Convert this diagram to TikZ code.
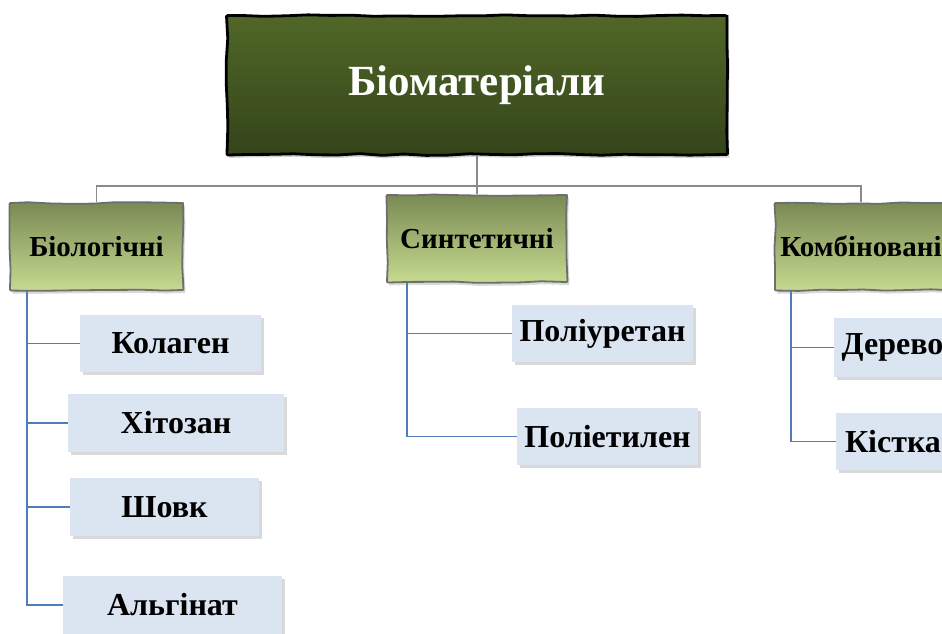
\documentclass[tikz,border=0pt]{standalone}
\usepackage{fontspec}
\setmainfont{Liberation Serif}
\usetikzlibrary{shadows,decorations.pathmorphing}
\definecolor{topA}{HTML}{516727}
\definecolor{topB}{HTML}{33441A}
\definecolor{catA}{HTML}{7A8A54}
\definecolor{catB}{HTML}{C6DA90}
\definecolor{leafC}{HTML}{DBE5F1}
\definecolor{grayL}{HTML}{8A8A8A}
\definecolor{blueL}{HTML}{4F7DBA}
\definecolor{catBorder}{HTML}{6E6E6E}
\begin{document}
\begin{tikzpicture}[x=1pt,y=-1pt,
  sketchy/.style={decorate,decoration={random steps,segment length=22pt,amplitude=0.9pt},rounded corners=1pt},
  titlebox/.style={sketchy,draw=black,line width=2.8pt,top color=topA,bottom color=topB,
    text=white,font=\bfseries\fontsize{43}{48}\selectfont,inner sep=0pt,
    drop shadow={opacity=0.35,shadow xshift=2pt,shadow yshift=-3pt}},
  catbox/.style={sketchy,draw=catBorder,line width=1.8pt,top color=catA,bottom color=catB,
    font=\bfseries\fontsize{29}{33}\selectfont,inner sep=0pt,
    drop shadow={opacity=0.3,shadow xshift=2pt,shadow yshift=-3pt}},
  leafbox/.style={fill=leafC,font=\bfseries\fontsize{32}{37}\selectfont,inner sep=0pt,
    drop shadow={opacity=0.3,shadow xshift=2.5pt,shadow yshift=-2.5pt}},
  grayline/.style={draw=grayL,line width=1.7pt},
  blueline/.style={draw=blueL,line width=1.7pt}]
\useasboundingbox (0,0) rectangle (942,633);
\clip (0,0) rectangle (942,633);
\pgfmathsetseed{7}
% title
\node[titlebox,minimum width=500pt,minimum height=139pt] (top) at (477,85) {Біоматеріали};
% categories
\node[catbox,minimum width=173pt,minimum height=87pt] (bio) at (96.5,246.5) {Біологічні};
\node[catbox,minimum width=180pt,minimum height=87pt] (syn) at (477,238.5) {Синтетичні};
\node[catbox,minimum width=172pt,minimum height=87pt] (komb) at (861,246.5) {Комбіновані};
% leaves
\node[leafbox,minimum width=181pt,minimum height=57pt] (kol) at (170.5,343.5) {Колаген};
\node[leafbox,minimum width=216pt,minimum height=58pt] (khi) at (176,423) {Хітозан};
\node[leafbox,minimum width=189pt,minimum height=58pt] (sho) at (164.5,507) {Шовк};
\node[leafbox,minimum width=219pt,minimum height=58pt] (alg) at (172.5,605) {Альгінат};
\node[leafbox,minimum width=181pt,minimum height=57pt] (pur) at (602.5,333.5) {Поліуретан};
\node[leafbox,minimum width=181pt,minimum height=57pt] (pet) at (607.5,436.5) {Поліетилен};
\node[leafbox,minimum width=117pt,minimum height=59pt] (der) at (892.5,347.5) {Дерево};
\node[leafbox,minimum width=114pt,minimum height=57pt] (kis) at (893,441.5) {Кістка};
% gray connectors
\coordinate (hb) at (477,186);
\draw[grayline] (top.south) -- (hb);
\draw[grayline] (hb) -| (bio.north);
\draw[grayline] (hb) -- (syn.north);
\draw[grayline] (hb) -| (komb.north);
% blue connectors
\coordinate (bv) at ([xshift=18pt]bio.south west);
\coordinate (sv) at ([xshift=21pt]syn.south west);
\coordinate (kv) at ([xshift=17pt]komb.south west);
\draw[blueline] (bv) |- (alg.west);
\draw[blueline] (bv) |- (kol.west);
\draw[blueline] (bv) |- (khi.west);
\draw[blueline] (bv) |- (sho.west);
\draw[blueline] (sv) |- (pet.west);
\draw[blueline] (sv) |- (pur.west);
\draw[blueline] (kv) |- (kis.west);
\draw[blueline] (kv) |- (der.west);
\end{tikzpicture}
\end{document}
